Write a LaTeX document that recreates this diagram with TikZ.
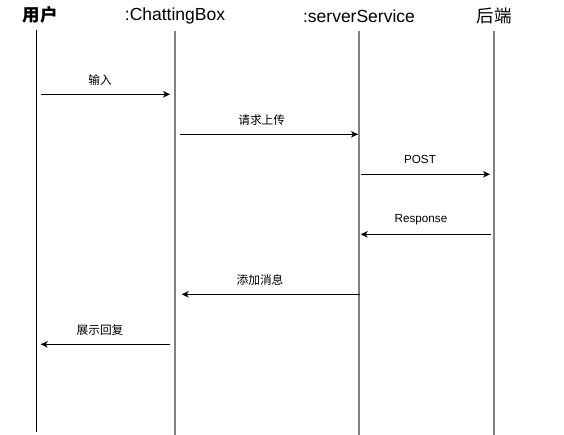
\documentclass[tikz,border=0pt]{standalone}
\usepackage{fontspec}
\setmainfont{Liberation Sans}
\newfontfamily\cjk{Noto Sans CJK SC}
\usetikzlibrary{arrows.meta}
\definecolor{lifegray}{HTML}{808080}
\tikzset{
  head/.style={inner sep=0pt,font=\fontsize{17.5}{20}\selectfont},
  lifeline/.style={draw=lifegray,line width=1.4pt},
  msg/.style={line width=0.9pt,-{Stealth[length=7pt,width=6.5pt,inset=2pt]}},
  msglabel/.style={inner sep=0pt,font=\fontsize{11.7}{14}\selectfont}
}

\begin{document}
\begin{tikzpicture}[x=1pt,y=-1pt]
\useasboundingbox (0,0) rectangle (564,435);
\node[head] (user) at (40.3,15) {\cjk\bfseries 用户};
\node[head] (chat) at (175,16) {:ChattingBox};
\node[head] (server) at (359,16) {:serverService};
\node[head] (backend) at (494,16) {\cjk 后端};
\draw[line width=1pt] (36,30) coordinate (userT) -- (36,432) coordinate (userB);
\foreach \name/\x in {chat/175,server/359,backend/494}
  \draw[lifeline] (\x,31) coordinate (\name T) -- (\x,435) coordinate (\name B);
\coordinate (in1) at (40.7,94.3);
\coordinate (in2) at (170,94.3);
\coordinate (up1) at (180,134.3);
\coordinate (up2) at (358,134.3);
\coordinate (post1) at (360.7,174.3);
\coordinate (post2) at (490,174.3);
\coordinate (resp1) at (490.7,234.3);
\coordinate (resp2) at (360.7,234.3);
\coordinate (add1) at (360,294.3);
\coordinate (add2) at (181.7,294.3);
\coordinate (show1) at (170,344.3);
\coordinate (show2) at (40.7,344.3);
\draw[msg] (in1) -- (in2);
\draw[msg] (up1) -- (up2);
\draw[msg] (post1) -- (post2);
\draw[msg] (resp1) -- (resp2);
\draw[msg] (add1) -- (add2);
\draw[msg] (show1) -- (show2);
\node[msglabel] (inL) at (100,80) {\cjk 输入};
\node[msglabel] (upL) at (261.7,120) {\cjk 请求上传};
\node[msglabel] (postL) at (420,159.5) {POST};
\node[msglabel] (respL) at (421,219.5) {Response};
\node[msglabel] (addL) at (260,280) {\cjk 添加消息};
\node[msglabel] (showL) at (100,330) {\cjk 展示回复};
\end{tikzpicture}
\end{document}
